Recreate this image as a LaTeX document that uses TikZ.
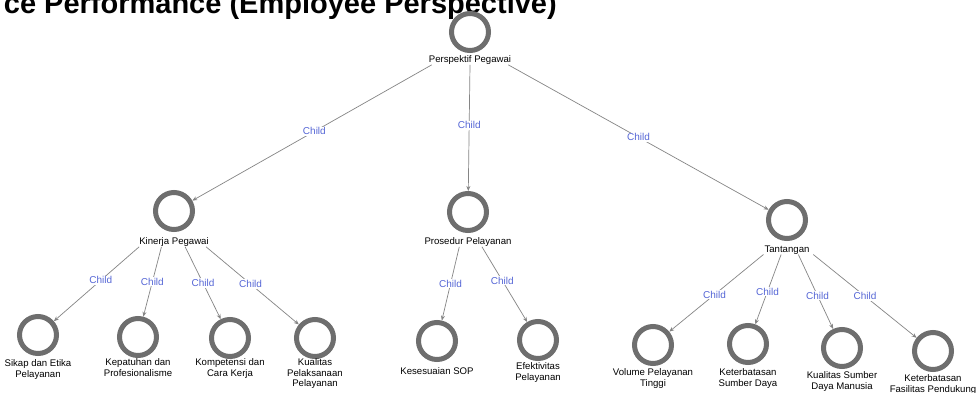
\documentclass[tikz,border=0pt]{standalone}
\usepackage{fontspec}
\setmainfont{Liberation Sans}
\usetikzlibrary{calc,arrows.meta}
\definecolor{ring}{HTML}{6E6E6E}
\definecolor{edgegray}{HTML}{858585}
\definecolor{childblue}{HTML}{5566D6}
\tikzset{
  ringnode/.style={circle, draw=ring, line width=5pt, minimum size=37pt, inner sep=0pt},
  caption/.style={anchor=north, align=center, inner sep=0pt,
    font=\fontsize{9.6}{10.5}\selectfont},
  link/.style={draw=edgegray, line width=0.7pt, -{Stealth[length=5pt,width=4pt]}},
  childtag/.style={text=childblue, fill=white, inner sep=1pt,
    font=\fontsize{10}{11}\selectfont},
}
\begin{document}
\begin{tikzpicture}[x=1pt,y=-1pt]
  \useasboundingbox (0,0) rectangle (980,392);
  \fill[white] (0,0) rectangle (980,392);
  \clip (0,0) rectangle (980,392);

  % heading
  \node[anchor=base east, inner sep=0pt, font=\bfseries\fontsize{29}{30}\selectfont] (title)
    at (557,13) {ce Performance (Employee Perspective)};

  % root
  \node[ringnode] (root) at (470,32) {};
  \node[caption] (rootl) at (470,55.5) {Perspektif Pegawai};

  % second level
  \node[ringnode] (kp) at (174,211) {};
  \node[caption] (kpl) at (174,237.5) {Kinerja Pegawai};
  \node[ringnode] (pp) at (468,212) {};
  \node[caption] (ppl) at (468,237.5) {Prosedur Pelayanan};
  \node[ringnode] (tt) at (787,220) {};
  \node[caption] (ttl) at (787,245.5) {Tantangan};

  % leaves
  \node[ringnode] (s1) at (38,335) {};
  \node[caption] at (38,359.5) {Sikap dan Etika\\Pelayanan};
  \node[ringnode] (s2) at (138,337) {};
  \node[caption] at (138,358.5) {Kepatuhan dan\\Profesionalisme};
  \node[ringnode] (s3) at (230,338) {};
  \node[caption] at (230,358.5) {Kompetensi dan\\Cara Kerja};
  \node[ringnode] (s4) at (315,338) {};
  \node[caption] at (315,358.5) {Kualitas\\Pelaksanaan\\Pelayanan};

  \node[ringnode] (p1) at (437,341) {};
  \node[caption] at (437,367.5) {Kesesuaian SOP};
  \node[ringnode] (p2) at (538,340) {};
  \node[caption] at (538,362.5) {Efektivitas\\Pelayanan};

  \node[ringnode] (t1) at (653,345) {};
  \node[caption] at (653,368.5) {Volume Pelayanan\\Tinggi};
  \node[ringnode] (t2) at (748,344) {};
  \node[caption] at (748,368.5) {Keterbatasan\\Sumber Daya};
  \node[ringnode] (t3) at (842,348) {};
  \node[caption] at (842,371.5) {Kualitas Sumber\\Daya Manusia};
  \node[ringnode] (t4) at (933,351) {};
  \node[caption] at (933,374.5) {Keterbatasan\\Fasilitas Pendukung};

  % connectors from the root
  \draw[link] ($(rootl.south west)+(3,0)$) -- node[childtag, pos=0.49] {Child} (kp);
  \draw[link] (rootl.south) -- node[childtag, pos=0.48] {Child} (pp);
  \draw[link] ($(rootl.south east)+(-3,0)$) -- node[childtag, pos=0.5] {Child} (tt);

  % connectors from Kinerja Pegawai
  \draw[link] ($(kpl.south west)!0.0!(kpl.south east)$) -- node[childtag, pos=0.45] {Child} (s1);
  \draw[link] ($(kpl.south west)!0.32!(kpl.south east)$) -- node[childtag, pos=0.5] {Child} (s2);
  \draw[link] ($(kpl.south west)!0.66!(kpl.south east)$) -- node[childtag, pos=0.5] {Child} (s3);
  \draw[link] ($(kpl.south west)!0.96!(kpl.south east)$) -- node[childtag, pos=0.48] {Child} (s4);

  % connectors from Prosedur Pelayanan
  \draw[link] ($(ppl.south west)!0.4!(ppl.south east)$) -- node[childtag, pos=0.5] {Child} (p1);
  \draw[link] ($(ppl.south west)!0.66!(ppl.south east)$) -- node[childtag, pos=0.45] {Child} (p2);

  % connectors from Tantangan
  \draw[link] ($(ttl.south west)!-0.02!(ttl.south east)$) -- node[childtag, pos=0.52] {Child} (t1);
  \draw[link] ($(ttl.south west)!0.37!(ttl.south east)$) -- node[childtag, pos=0.53] {Child} (t2);
  \draw[link] ($(ttl.south west)!0.75!(ttl.south east)$) -- node[childtag, pos=0.55] {Child} (t3);
  \draw[link] ($(ttl.south west)!1.08!(ttl.south east)$) -- node[childtag, pos=0.5] {Child} (t4);
\end{tikzpicture}
\end{document}
